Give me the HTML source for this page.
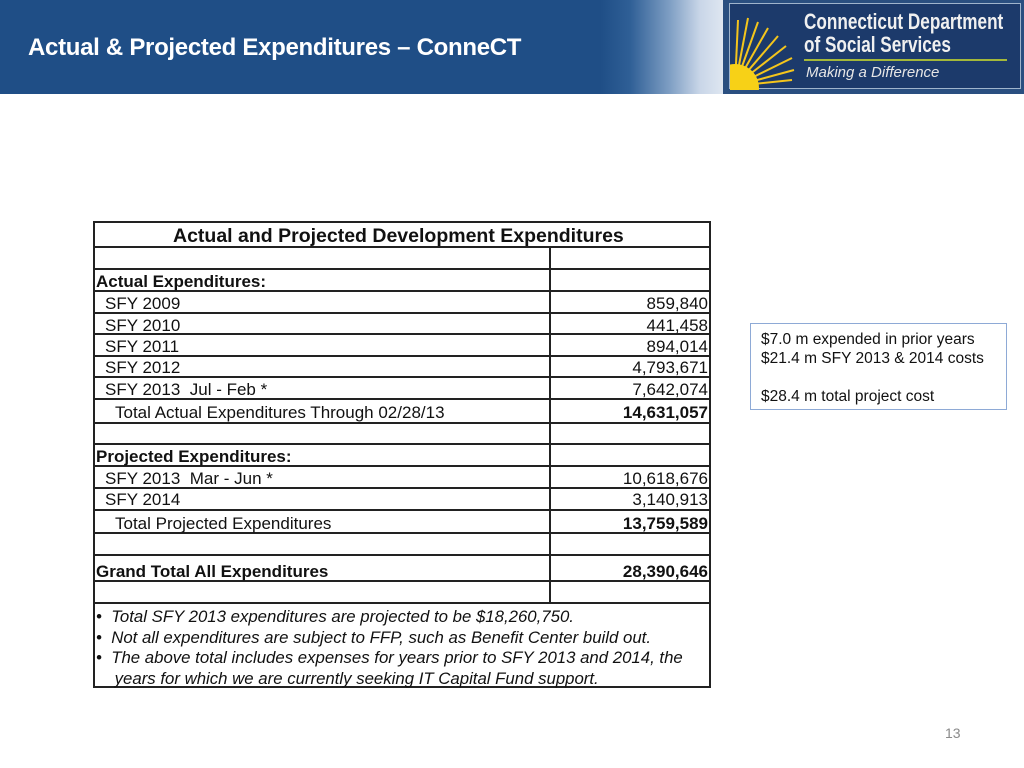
<!DOCTYPE html>
<html><head><meta charset="utf-8"><style>
*{margin:0;padding:0}
body{width:1024px;height:768px;position:relative;background:#fff;font-family:"Liberation Sans",Arial,sans-serif;overflow:hidden}
.a{position:absolute;white-space:nowrap}
.h{position:absolute;left:94px;width:616px;height:2px;background:#222}
.t{position:absolute;font-size:17px;line-height:18px;color:#111;white-space:nowrap}
.r{position:absolute;font-size:17px;line-height:18px;color:#111;right:316px;text-align:right;white-space:nowrap}
b{font-weight:bold}
.v{position:absolute;left:549px;width:2px;background:#222}
</style></head><body>
<div class="a" style="left:0;top:0;width:724px;height:94px;background:linear-gradient(90deg,#1f4e86 0,#1f4e86 600px,#2f5f96 630px,#7f9fc4 670px,#c9d6e8 700px,#dfe7f1 724px)"></div>
<div class="a" style="left:28px;top:34px;font-size:24px;font-weight:bold;color:#fff;letter-spacing:-0.3px">Actual &amp; Projected Expenditures – ConneCT</div>
<div class="a" style="left:723px;top:0;width:301px;height:94px;background:#2a4f80"></div>
<div class="a" style="left:729px;top:3px;width:292px;height:86px;background:#1c3a6b;border:1px solid #9fb4cc;box-sizing:border-box"></div>
<svg class="a" style="left:730px;top:8px" width="70" height="82" viewBox="0 0 70 82">
<g stroke="#f4c51c" stroke-width="2">
<line x1="5" y1="78" x2="8" y2="12"/><line x1="5" y1="78" x2="18" y2="10"/><line x1="5" y1="78" x2="28" y2="14"/><line x1="5" y1="78" x2="38" y2="20"/><line x1="5" y1="78" x2="48" y2="28"/><line x1="5" y1="78" x2="56" y2="38"/><line x1="5" y1="78" x2="62" y2="50"/><line x1="5" y1="78" x2="64" y2="62"/><line x1="5" y1="78" x2="62" y2="72"/></g>
<circle cx="5" cy="80" r="24" fill="#f7d117"/></svg>
<div class="a" style="left:804px;top:10px;font-size:22px;font-weight:bold;color:#f0f0f0;line-height:23px;transform:scaleX(0.78);transform-origin:left">Connecticut Department<br>of Social Services</div>
<div class="a" style="left:804px;top:59px;width:203px;height:2px;background:#a4b83a"></div>
<div class="a" style="left:806px;top:64px;font-size:15px;font-style:italic;color:#e6e6e6">Making a Difference</div>

<div class="a" style="left:93px;top:221px;width:2px;height:467px;background:#222"></div>
<div class="a" style="left:709px;top:221px;width:2px;height:467px;background:#222"></div>
<div class="h" style="top:221px"></div><div class="h" style="top:246px"></div><div class="h" style="top:268px"></div><div class="h" style="top:290px"></div><div class="h" style="top:312px"></div><div class="h" style="top:333px"></div><div class="h" style="top:355px"></div><div class="h" style="top:376px"></div><div class="h" style="top:398px"></div><div class="h" style="top:422px"></div><div class="h" style="top:443px"></div><div class="h" style="top:465px"></div><div class="h" style="top:487px"></div><div class="h" style="top:509px"></div><div class="h" style="top:532px"></div><div class="h" style="top:554px"></div><div class="h" style="top:580px"></div><div class="h" style="top:602px"></div><div class="h" style="top:686px"></div>
<div class="v" style="top:246px;height:358px"></div>

<div class="t" style="left:173px;top:227px;font-weight:bold;font-size:19.5px">Actual and Projected Development Expenditures</div>
<div class="t" style="left:96px;top:273px"><b>Actual Expenditures:</b></div>
<div class="t" style="left:105px;top:295px">SFY 2009</div><div class="r" style="top:295px">859,840</div>
<div class="t" style="left:105px;top:317px">SFY 2010</div><div class="r" style="top:317px">441,458</div>
<div class="t" style="left:105px;top:338px">SFY 2011</div><div class="r" style="top:338px">894,014</div>
<div class="t" style="left:105px;top:359px">SFY 2012</div><div class="r" style="top:359px">4,793,671</div>
<div class="t" style="left:105px;top:381px">SFY 2013&nbsp; Jul - Feb *</div><div class="r" style="top:381px">7,642,074</div>
<div class="t" style="left:115px;top:404px">Total Actual Expenditures Through 02/28/13</div><div class="r" style="top:404px"><b>14,631,057</b></div>
<div class="t" style="left:96px;top:448px"><b>Projected Expenditures:</b></div>
<div class="t" style="left:105px;top:470px">SFY 2013&nbsp; Mar - Jun *</div><div class="r" style="top:470px">10,618,676</div>
<div class="t" style="left:105px;top:491px">SFY 2014</div><div class="r" style="top:491px">3,140,913</div>
<div class="t" style="left:115px;top:515px">Total Projected Expenditures</div><div class="r" style="top:515px"><b>13,759,589</b></div>
<div class="t" style="left:96px;top:563px"><b>Grand Total All Expenditures</b></div><div class="r" style="top:563px"><b>28,390,646</b></div>
<div class="t" style="left:96px;top:607px;font-style:italic;font-size:16.8px;line-height:20.5px">•&nbsp; Total SFY 2013 expenditures are projected to be $18,260,750.<br>•&nbsp; Not all expenditures are subject to FFP, such as Benefit Center build out.<br>•&nbsp; The above total includes expenses for years prior to SFY 2013 and 2014, the<br>&nbsp;&nbsp;&nbsp; years for which we are currently seeking IT Capital Fund support.</div>

<div class="a" style="left:750px;top:323px;width:257px;height:87px;border:1px solid #8eaad6;box-sizing:border-box"></div>
<div class="t" style="left:761px;top:330px;font-size:15.5px;line-height:19px">$7.0 m expended in prior years<br>$21.4 m SFY 2013 &amp; 2014 costs<br><br>$28.4 m total project cost</div>
<div class="a" style="left:945px;top:725px;font-size:14px;color:#8a8a8a">13</div>
</body></html>
